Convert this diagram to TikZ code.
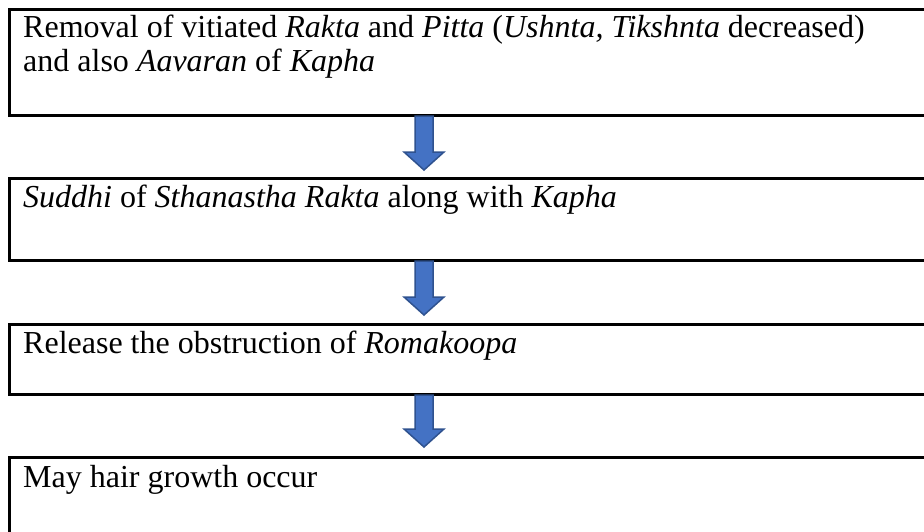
\documentclass[tikz,border=0pt]{standalone}
\usepackage{fontspec}
\setmainfont{Liberation Serif}
\definecolor{arrfill}{HTML}{4472C4}
\definecolor{arrline}{HTML}{2F528F}
\begin{document}
\begin{tikzpicture}[x=1pt,y=-1pt,
  box/.style={draw=black, line width=3pt, anchor=north west, outer sep=0pt,
    inner sep=0pt, minimum width=940pt, fill=white},
  txt/.style={anchor=base west, inner sep=0pt, align=left,
    font=\fontsize{32}{34}\selectfont},
  barrow/.style={fill=arrfill, draw=arrline, line width=1.5pt, line join=miter}]
\useasboundingbox (0,0) rectangle (924,531);
\clip (0,0) rectangle (924,531);
\fill[white] (0,0) rectangle (924,531);
\coordinate (ax) at (424,0);
% boxes
\node[box, minimum height=106pt] (b1) at (9,9) {};
\node[box, minimum height=82pt] (b2) at (9,178) {};
\node[box, minimum height=70pt] (b3) at (9,324) {};
\node[box, minimum height=110pt] (b4) at (9,457) {};
% texts
\node[txt] (t1) at ([shift={(14,62)}]b1.north west)
  {Removal of vitiated \textit{Rakta} and \textit{Pitta} (\textit{Ushnta, Tikshnta} decreased)\\and also \textit{Aavaran} of \textit{Kapha}};
\node[txt] (t2) at ([shift={(14,29)}]b2.north west)
  {\textit{Suddhi} of \textit{Sthanastha Rakta} along with \textit{Kapha}};
\node[txt] (t3) at ([shift={(14,29)}]b3.north west)
  {Release the obstruction of \textit{Romakoopa}};
\node[txt] (t4) at ([shift={(14,30)}]b4.north west)
  {May hair growth occur};
% block arrows
\draw[barrow] ([shift={(-9,1)}]b1.south -| ax) -- ++(0,36) -- ++(-11,0) -- ++(20,18) -- ++(20,-18) -- ++(-11,0) -- ++(0,-36) -- cycle;
\draw[barrow] ([shift={(-9,1)}]b2.south -| ax) -- ++(0,36) -- ++(-11,0) -- ++(20,18) -- ++(20,-18) -- ++(-11,0) -- ++(0,-36) -- cycle;
\draw[barrow] ([shift={(-9,1)}]b3.south -| ax) -- ++(0,34) -- ++(-11,0) -- ++(20,18) -- ++(20,-18) -- ++(-11,0) -- ++(0,-34) -- cycle;
\end{tikzpicture}
\end{document}
